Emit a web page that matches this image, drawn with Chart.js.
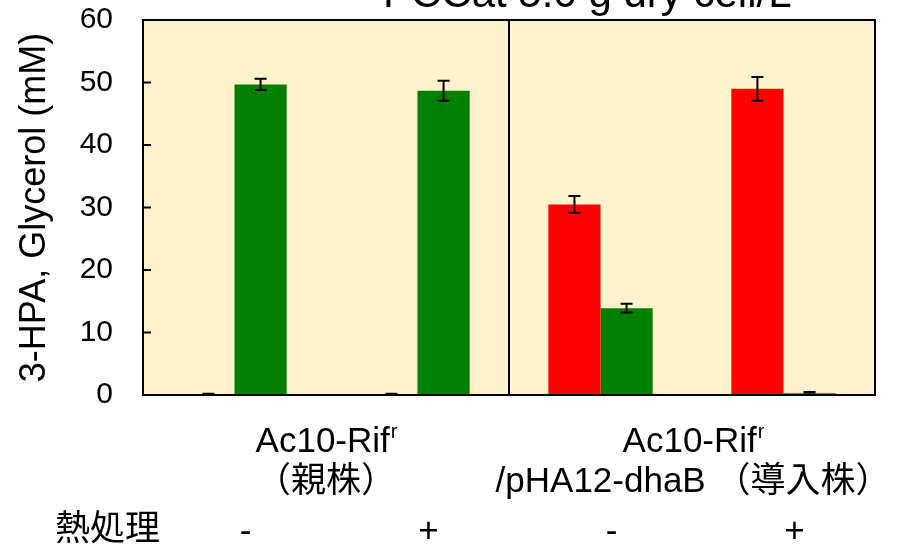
<!DOCTYPE html>
<html>
<head>
<meta charset="utf-8">
<script src="https://cdn.jsdelivr.net/npm/chart.js@4"></script>
<style>
html, body { margin: 0; padding: 0; background: #fff; }
</style>
</head>
<body>
<canvas id="hpaChart" width="903" height="550"></canvas>
<script>
// 熱処理 (heat treatment) for each bar group
var heatLabels = ['-', '+', '-', '+'];
// 3-HPA (red) and glycerol (green), mM
var hpaValues = [0.1, 0.1, 30.5, 49.0];
var hpaErrors = [0.1, 0.1, 1.35, 1.9];
var glycerolValues = [49.7, 48.7, 13.9, 0.3];
var glycerolErrors = [0.9, 1.6, 0.7, 0.2];
var yTicks = [0, 10, 20, 30, 40, 50, 60];
var strainNames = ['Ac10-Rif', 'Ac10-Rif'];
var strainNotes = ['（親株）', '/pHA12-dhaB （導入株）'];

var fontStack = '"Liberation Sans", Arial, "Noto Sans CJK JP", sans-serif';

var decor = {
    id: 'decor',
    beforeDatasetsDraw: function (chart) {
        var a = chart.chartArea, ctx = chart.ctx;
        ctx.save();
        ctx.fillStyle = '#FFF2CC';
        ctx.fillRect(a.left, a.top, a.right - a.left, a.bottom - a.top);
        ctx.restore();
    },
    afterDatasetsDraw: function (chart) {
        var a = chart.chartArea, ctx = chart.ctx;
        var y = chart.scales.y, x = chart.scales.x;
        var errs = [hpaErrors, glycerolErrors];
        ctx.save();
        ctx.strokeStyle = '#000';
        ctx.lineWidth = 2;
        // error bars
        chart.data.datasets.forEach(function (ds, i) {
            var meta = chart.getDatasetMeta(i);
            meta.data.forEach(function (bar, j) {
                var v = ds.data[j], e = errs[i][j];
                var yt = y.getPixelForValue(v + e);
                var yb = y.getPixelForValue(Math.max(0, v - e));
                ctx.beginPath();
                ctx.moveTo(bar.x, yt); ctx.lineTo(bar.x, yb);
                ctx.moveTo(bar.x - 6, yt); ctx.lineTo(bar.x + 6, yt);
                ctx.moveTo(bar.x - 6, yb); ctx.lineTo(bar.x + 6, yb);
                ctx.stroke();
            });
        });
        // inward ticks
        yTicks.forEach(function (t) {
            var py = y.getPixelForValue(t);
            ctx.beginPath();
            ctx.moveTo(a.left, py); ctx.lineTo(a.left + 8, py);
            ctx.stroke();
        });
        // divider between strains
        var mid = (x.getPixelForValue(1) + x.getPixelForValue(2)) / 2;
        ctx.beginPath();
        ctx.moveTo(mid, a.top); ctx.lineTo(mid, a.bottom);
        ctx.stroke();
        ctx.strokeRect(a.left, a.top, a.right - a.left, a.bottom - a.top);
        ctx.restore();
    },
    afterDraw: function (chart) {
        var a = chart.chartArea, ctx = chart.ctx, x = chart.scales.x;
        ctx.save();
        ctx.fillStyle = '#000';
        // title, mostly cut off at top
        ctx.font = '42px ' + fontStack;
        ctx.textAlign = 'left';
        ctx.textBaseline = 'alphabetic';
        ctx.fillText('PCCat 5.0 g dry cell/L', 383, 7);

        // y axis title
        ctx.save();
        ctx.translate(35, (a.top + a.bottom) / 2);
        ctx.rotate(-Math.PI / 2);
        ctx.font = '36px ' + fontStack;
        ctx.textAlign = 'center';
        ctx.textBaseline = 'middle';
        ctx.fillText('3-HPA, Glycerol (mM)', 0, 0);
        ctx.restore();

        // strain labels
        var mid = (x.getPixelForValue(1) + x.getPixelForValue(2)) / 2;
        var centers = [(a.left + mid) / 2, (mid + a.right) / 2 + 1];
        centers.forEach(function (cx, k) {
            ctx.font = '35px ' + fontStack;
            var w1 = ctx.measureText(strainNames[k]).width;
            ctx.font = '20px ' + fontStack;
            var w2 = ctx.measureText('r').width;
            var x0 = cx - (w1 + w2) / 2;
            ctx.textAlign = 'left';
            ctx.textBaseline = 'alphabetic';
            ctx.font = '35px ' + fontStack;
            ctx.fillText(strainNames[k], x0, 452);
            ctx.font = '20px ' + fontStack;
            ctx.fillText('r', x0 + w1 + 1, 438);
            ctx.font = '35px ' + fontStack;
            ctx.textAlign = 'center';
            ctx.textBaseline = 'middle';
            ctx.fillText(strainNotes[k], cx, 482);
        });

        // heat treatment row
        ctx.font = '35px ' + fontStack;
        ctx.textAlign = 'left';
        ctx.textBaseline = 'middle';
        ctx.fillText('熱処理', 55, 530);
        ctx.textAlign = 'center';
        heatLabels.forEach(function (lab, i) {
            ctx.fillText(lab, x.getPixelForValue(i) + 11, 532);
        });
        ctx.restore();
    }
};

var ctxHpa = document.getElementById('hpaChart').getContext('2d');
var hpaChart = new Chart(ctxHpa, {
    type: 'bar',
    data: {
        labels: heatLabels,
        datasets: [{
            label: '3-HPA',
            data: hpaValues,
            backgroundColor: '#FF0000',
            borderWidth: 0
        }, {
            label: 'Glycerol',
            data: glycerolValues,
            backgroundColor: '#008000',
            borderWidth: 0
        }]
    },
    options: {
        responsive: false,
        animation: false,
        datasets: {
            bar: { categoryPercentage: 0.57, barPercentage: 1.0 }
        },
        layout: {
            padding: { left: 0, top: 20, right: 28, bottom: 155 }
        },
        plugins: {
            legend: { display: false },
            tooltip: { enabled: false }
        },
        scales: {
            x: {
                display: false
            },
            y: {
                min: 0,
                max: 60,
                afterFit: function (scale) {
                    scale.width = 143;
                    scale.paddingTop = 0;
                    scale.paddingBottom = 0;
                },
                afterBuildTicks: function (scale) {
                    scale.ticks = yTicks.map(function (v) { return { value: v }; });
                },
                grid: { display: false, drawTicks: false },
                border: { display: false },
                ticks: {
                    padding: 30,
                    color: '#000',
                    font: { family: fontStack, size: 30 }
                }
            }
        }
    },
    plugins: [decor]
});
</script>
</body>
</html>
